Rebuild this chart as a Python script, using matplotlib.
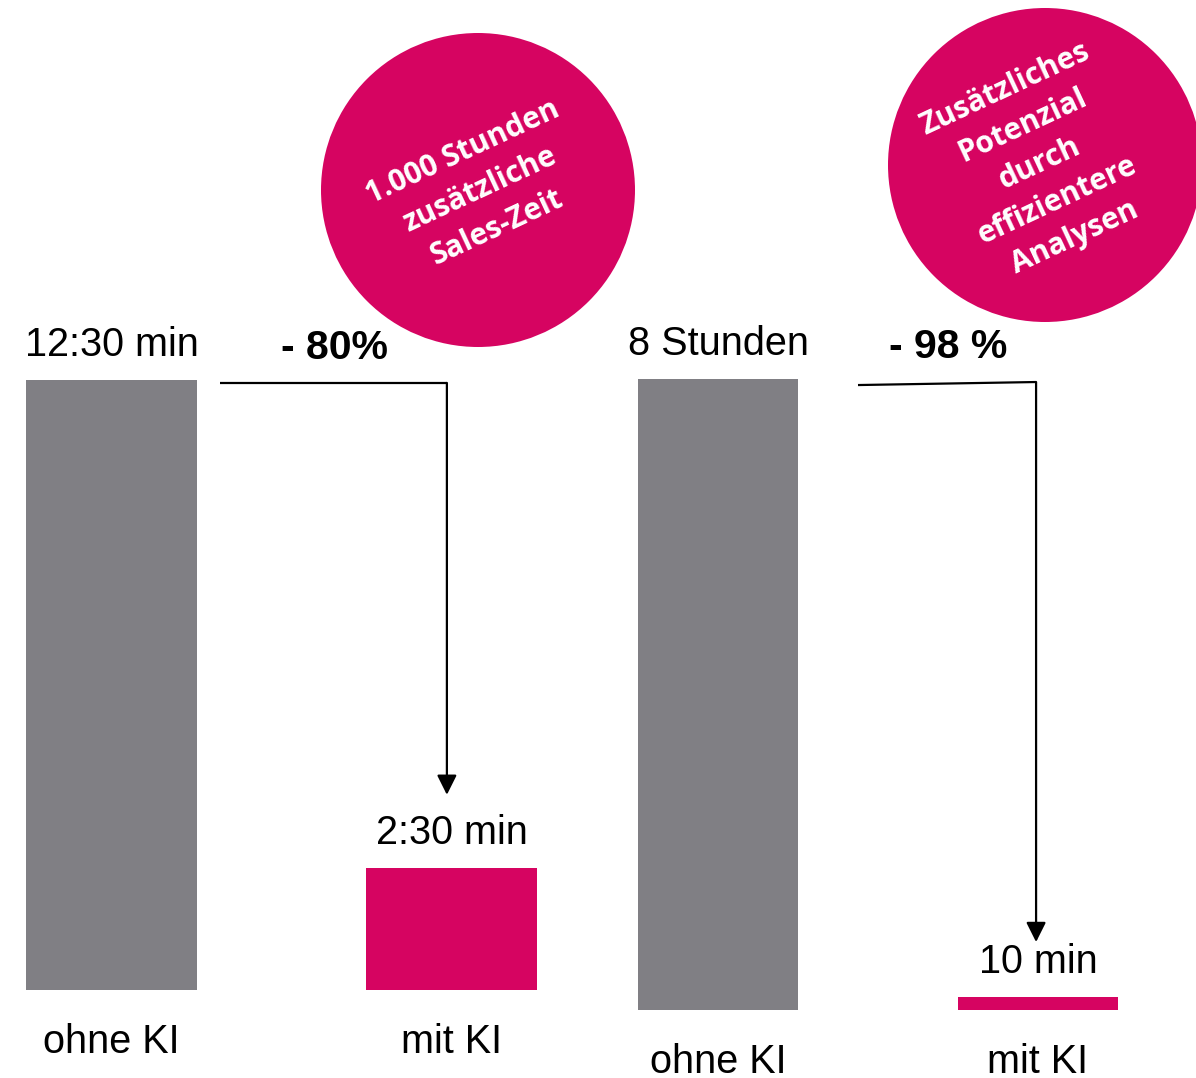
import matplotlib
matplotlib.use("Agg")
import matplotlib.pyplot as plt
from matplotlib.patches import Circle

# --- data
categories = ["ohne KI", "mit KI"]
left_minutes = [12.5, 2.5]          # 12:30 min vs 2:30 min
left_labels = ["12:30 min", "2:30 min"]
left_change = "- 80%"
right_minutes = [480, 10]           # 8 Stunden vs 10 min
right_labels = ["8 Stunden", "10 min"]
right_change = "- 98 %"
left_bubble = "1.000 Stunden\nzusätzliche\nSales-Zeit"
right_bubble = "Zusätzliches\nPotenzial\ndurch\neffizientere\nAnalysen"

GREY = "#807f84"
PINK = "#d60461"
W, H = 1196, 1078
FS = 28.5

plt.rcParams["font.family"] = ["Liberation Sans", "DejaVu Sans"]

fig = plt.figure(figsize=(W / 100, H / 100), dpi=100)


def px_axes(x0, x1, y_bottom, y_top):
    """axes from pixel box (y measured from top)"""
    return fig.add_axes([x0 / W, 1 - y_bottom / H, (x1 - x0) / W, (y_bottom - y_top) / H])


def draw_group(ax, values, labels, change, change_x, arrow, bw):
    ax.bar([0, 1], values, width=bw, color=[GREY, PINK])
    ax.set_ylim(0, values[0])
    for sp in ax.spines.values():
        sp.set_visible(False)
    ax.set_yticks([])
    ax.set_xticks([0, 1], categories)
    ax.tick_params(axis="x", length=0, pad=24, labelsize=FS)
    for i, (v, lab) in enumerate(zip(values, labels)):
        ax.annotate(lab, (i, v), xytext=(0, 25), textcoords="offset points",
                    ha="center", va="center", fontsize=FS, annotation_clip=False)
    ax.annotate(change, (change_x, values[0]), xytext=(0, 23), textcoords="offset points",
                ha="center", va="center", fontsize=29.5, fontweight="bold",
                annotation_clip=False)
    (xs, ys), (xc, yc), (xe, ye) = arrow
    ax.plot([xs, xc], [ys, yc], color="black", lw=1.6, clip_on=False,
            solid_capstyle="butt")
    ax.annotate("", xy=(xc, ye), xytext=(xc, yc),
                arrowprops=dict(arrowstyle="-|>", color="black", lw=1.6,
                                mutation_scale=30, shrinkA=0, shrinkB=0),
                annotation_clip=False)


# left group: grey bar 26-197 px, pink 367-538 px, baseline y=990, top y=380
ax1 = px_axes(0, 598, 990, 380)
ax1.set_xlim(-111.5 / 340.5, -111.5 / 340.5 + 598 / 340.5)
draw_group(ax1, left_minutes, left_labels, left_change, 0.656,
           [(0.319, 12.44), (0.985, 12.44), (0.985, 4.0)], 171 / 340.5)

# right group: grey 638-798 px, pink 958-1118 px, baseline y=1010, top y=379
ax2 = px_axes(598, 1196, 1010, 379)
ax2.set_xlim(-120 / 320, -120 / 320 + 598 / 320)
draw_group(ax2, right_minutes, right_labels, right_change, 0.719,
           [(0.4375, 475.4), (0.994, 477.7), (0.994, 51.7)], 0.5)

# bubbles on an overlay in pixel space
ov = fig.add_axes([0, 0, 1, 1], zorder=-1)
ov.set_xlim(0, W)
ov.set_ylim(H, 0)
ov.axis("off")
for (cx, cy), (tx, ty), txt in [((478, 190), (480, 190), left_bubble),
                                ((1045, 165), (1040, 163), right_bubble)]:
    ov.add_patch(Circle((cx, cy), 157, color=PINK, lw=0))
    ov.text(tx, ty, txt, color="white", fontsize=21.5, fontweight="bold",
            family=["Open Sans", "DejaVu Sans"], rotation=25,
            rotation_mode="anchor", ha="center", va="center",
            multialignment="center", linespacing=1.48)

fig.savefig("out.png", dpi=100)
